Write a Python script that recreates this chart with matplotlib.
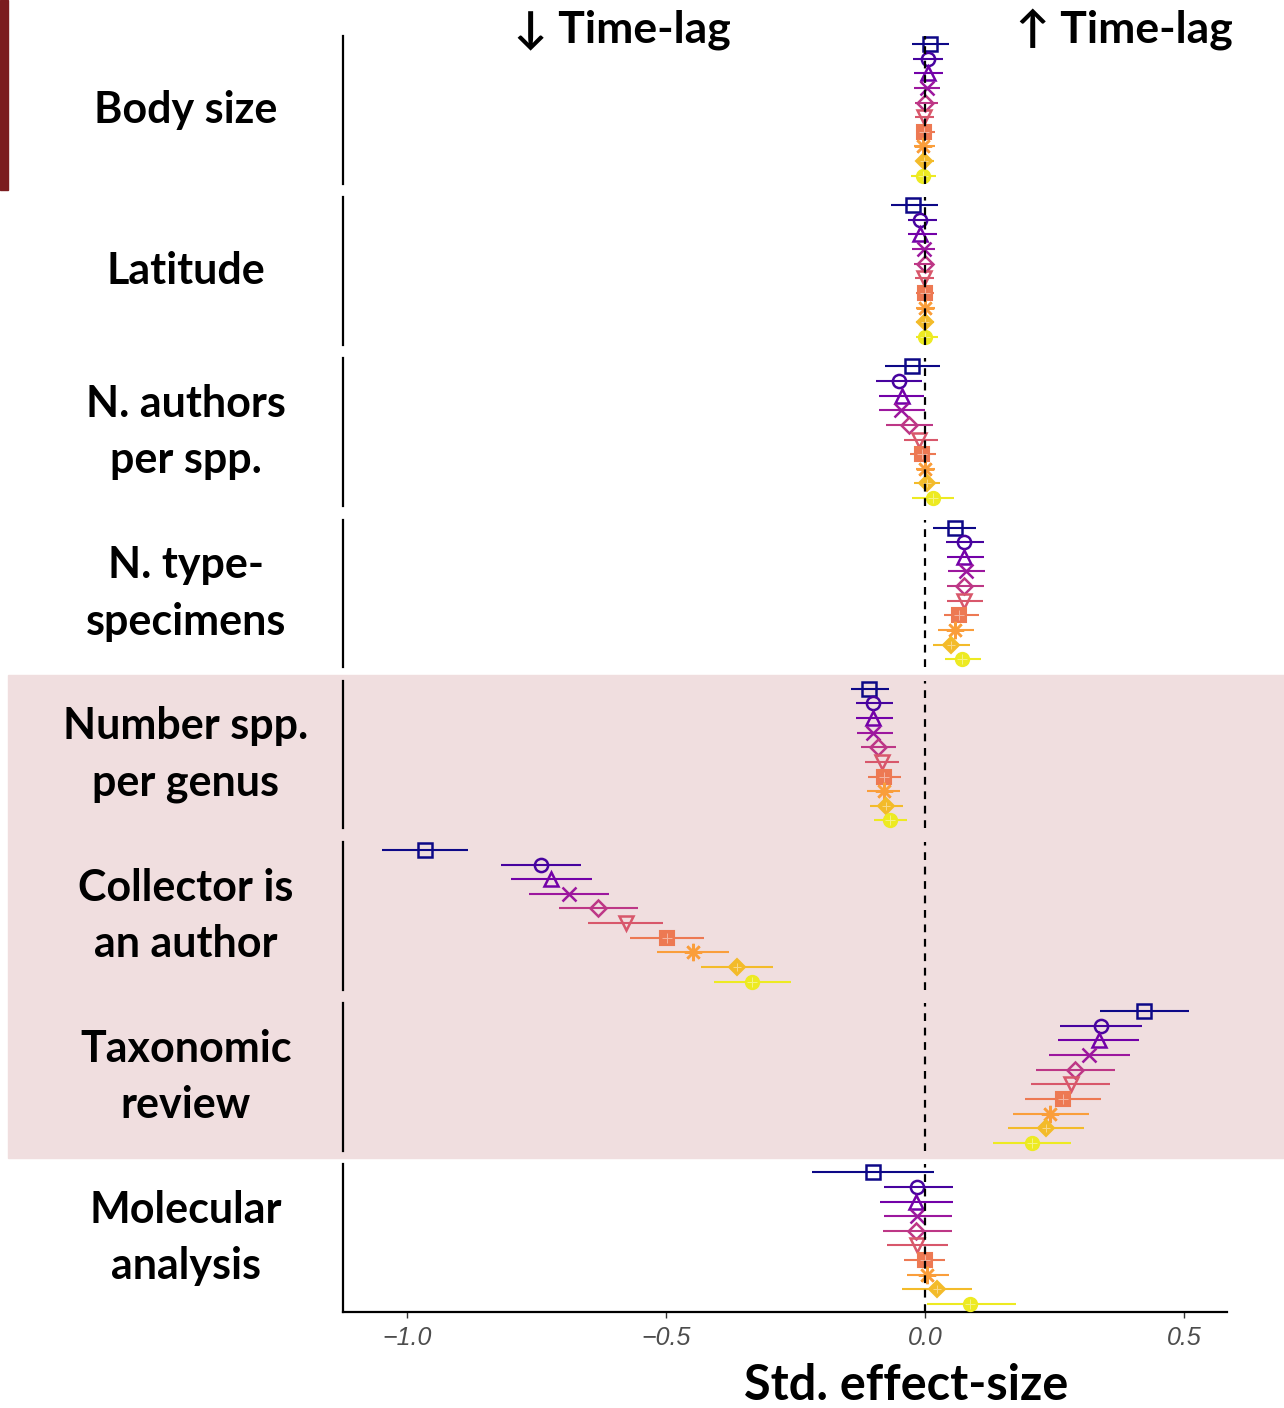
import matplotlib
matplotlib.use("Agg")
import matplotlib.pyplot as plt
import matplotlib.patches as mpatches
import numpy as np

plt.rcParams['font.family'] = ['Lato', 'DejaVu Sans']

groups = ["Body size", "Latitude", "N. authors\nper spp.", "N. type-\nspecimens",
          "Number spp.\nper genus", "Collector is\nan author", "Taxonomic\nreview",
          "Molecular\nanalysis"]

# point estimates (10 models per predictor)
est = [
    [0.010, 0.005, 0.005, 0.003, 0.000, -0.003, -0.003, -0.004, -0.002, -0.004],
    [-0.024, -0.010, -0.010, -0.003, 0.000, -0.003, 0.000, 0.000, 0.000, 0.000],
    [-0.026, -0.050, -0.045, -0.047, -0.031, -0.012, -0.006, 0.000, 0.003, 0.016],
    [0.058, 0.075, 0.075, 0.079, 0.075, 0.075, 0.066, 0.058, 0.050, 0.071],
    [-0.108, -0.100, -0.100, -0.100, -0.090, -0.084, -0.080, -0.080, -0.075, -0.068],
    [-0.965, -0.742, -0.723, -0.688, -0.631, -0.578, -0.499, -0.449, -0.364, -0.334],
    [0.422, 0.340, 0.335, 0.317, 0.290, 0.281, 0.266, 0.241, 0.234, 0.206],
    [-0.101, -0.015, -0.017, -0.016, -0.017, -0.016, 0.000, 0.003, 0.023, 0.086],
]
lo = [
    [-0.025, -0.023, -0.022, -0.021, -0.019, -0.019, -0.017, -0.021, -0.017, -0.027],
    [-0.066, -0.033, -0.033, -0.026, -0.021, -0.019, -0.017, -0.017, -0.017, -0.017],
    [-0.077, -0.095, -0.089, -0.089, -0.076, -0.041, -0.030, -0.017, -0.021, -0.026],
    [0.016, 0.041, 0.042, 0.045, 0.043, 0.042, 0.036, 0.024, 0.015, 0.039],
    [-0.144, -0.133, -0.133, -0.131, -0.124, -0.116, -0.111, -0.112, -0.106, -0.099],
    [-1.048, -0.818, -0.799, -0.764, -0.707, -0.650, -0.570, -0.517, -0.433, -0.407],
    [0.338, 0.261, 0.256, 0.240, 0.214, 0.205, 0.192, 0.169, 0.161, 0.131],
    [-0.219, -0.079, -0.088, -0.079, -0.082, -0.074, -0.040, -0.035, -0.044, 0.003],
]
hi = [
    [0.047, 0.035, 0.035, 0.029, 0.024, 0.017, 0.019, 0.019, 0.017, 0.021],
    [0.024, 0.023, 0.023, 0.020, 0.018, 0.018, 0.018, 0.019, 0.018, 0.024],
    [0.028, -0.006, -0.003, 0.000, 0.015, 0.024, 0.021, 0.019, 0.029, 0.055],
    [0.099, 0.113, 0.114, 0.116, 0.114, 0.112, 0.105, 0.095, 0.087, 0.108],
    [-0.069, -0.062, -0.062, -0.062, -0.056, -0.050, -0.046, -0.048, -0.043, -0.035],
    [-0.882, -0.665, -0.644, -0.611, -0.555, -0.506, -0.427, -0.378, -0.293, -0.259],
    [0.509, 0.419, 0.414, 0.396, 0.367, 0.357, 0.340, 0.316, 0.306, 0.282],
    [0.017, 0.053, 0.053, 0.052, 0.052, 0.045, 0.039, 0.047, 0.090, 0.176],
]

cols = ["#0D0887", "#47039F", "#7301A8", "#9C179E", "#BD3786",
        "#D8576B", "#ED7953", "#FA9E3B", "#F3BB2A", "#EDEA22"]
marks = ['s', 'o', '^', 'x', 'D', 'v', 's', (8, 2, 0), 'D', 'o']
filled = [False, False, False, False, False, False, True, False, True, True]
sizes = [9.5, 9.5, 10.5, 9.5, 8.5, 10.5, 9.5, 12.5, 8.5, 9.5]

fig = plt.figure(figsize=(12.84, 14.08), dpi=100)

# pink highlight band and red side tab
fig.patches.append(mpatches.Rectangle((8 / 1284, 1 - 1158 / 1408), 1, (1158 - 675) / 1408,
                                      transform=fig.transFigure, color="#F0DEDF", zorder=-1))
fig.patches.append(mpatches.Rectangle((0, 1 - 190 / 1408), 8 / 1284, 190 / 1408,
                                      transform=fig.transFigure, color="#7B1C1F", zorder=-1))

gs = fig.add_gridspec(8, 1, left=343 / 1284, right=1227 / 1284,
                      top=1 - 36 / 1408, bottom=1 - 1312 / 1408, hspace=0.092)
axes = [fig.add_subplot(gs[k]) for k in range(8)]

for k, ax in enumerate(axes):
    ax.set_facecolor('none')
    ax.set_zorder(1)
    for i in range(10):
        ax.plot([lo[k][i], hi[k][i]], [i, i], color=cols[i], lw=1.5,
                solid_capstyle='butt', zorder=2)
        if filled[i]:
            ax.plot(est[k][i], i, marker=marks[i], ms=sizes[i], mfc=cols[i],
                    mec=cols[i], mew=1.5, zorder=3)
            ax.plot(est[k][i], i, marker='+', ms=sizes[i] * 0.7, mec='white',
                    mew=0.7, alpha=0.45, zorder=3)
        else:
            ax.plot(est[k][i], i, marker=marks[i], ms=sizes[i], mfc='none',
                    mec=cols[i], mew=1.8, zorder=3)
    ax.axvline(0, color='black', ls=(0, (3.5, 3)), lw=1.6, zorder=4)
    ax.set_xlim(-1.124, 0.583)
    ax.set_ylim(9.55, -0.55)
    ax.set_yticks([])
    for s in ['top', 'right']:
        ax.spines[s].set_visible(False)
    ax.spines['left'].set_linewidth(1.6)
    if k < 7:
        ax.spines['bottom'].set_visible(False)
        ax.set_xticks([])
    else:
        ax.spines['bottom'].set_linewidth(1.6)
        ax.set_xticks([-1.0, -0.5, 0.0, 0.5])
        ax.set_xticklabels(["\u22121.0", "\u22120.5", "0.0", "0.5"])
        ax.tick_params(axis='x', length=4, width=1, color='#333333', pad=6)
        for t in ax.get_xticklabels():
            t.set_fontstyle('italic')
            t.set_color('#4D4D4D')
            t.set_fontsize(18)
            t.set_family(['Liberation Sans', 'DejaVu Sans'])

    pos = ax.get_position()
    fig.text(186 / 1284, (pos.y0 + pos.y1) / 2, groups[k], ha='center', va='center',
             fontsize=31, fontweight='bold', color='black', linespacing=1.5)

fig.text(622 / 1284, 1 - 30 / 1408, "\u2193 Time-lag", ha='center', va='center',
         fontsize=32, fontweight='bold')
fig.text(1124 / 1284, 1 - 30 / 1408, "\u2191 Time-lag", ha='center', va='center',
         fontsize=32, fontweight='bold')
fig.text(906 / 1284, 1 - 1386 / 1408, "Std. effect-size", ha='center', va='center',
         fontsize=35, fontweight='bold')

fig.savefig("out.png", dpi=100)
